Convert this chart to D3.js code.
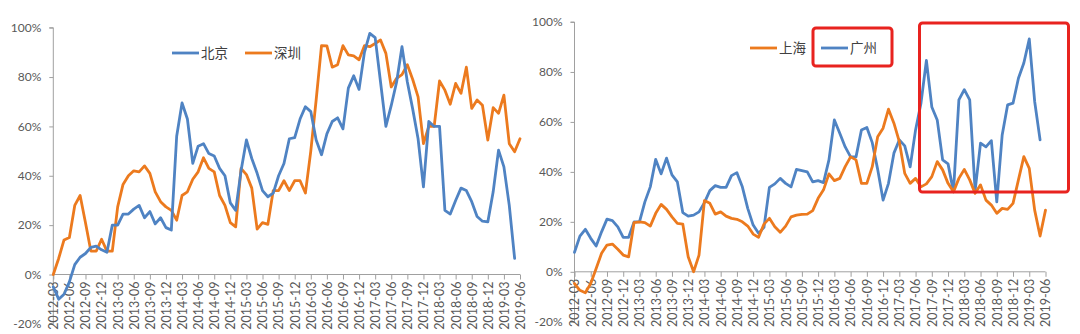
<!DOCTYPE html>
<html>
<head>
<meta charset="utf-8">
<script src="https://cdn.jsdelivr.net/npm/d3@7"></script>
<style>
html,body{margin:0;padding:0;background:#fff;}
svg{display:block;}
</style>
</head>
<body>
<svg id="chart" width="1080" height="334"></svg>
<script>
// ---------- DATA ----------
const months = [
"2012-03","2012-04","2012-05","2012-06","2012-07","2012-08","2012-09","2012-10","2012-11","2012-12",
"2013-01","2013-02","2013-03","2013-04","2013-05","2013-06","2013-07","2013-08","2013-09","2013-10","2013-11","2013-12",
"2014-01","2014-02","2014-03","2014-04","2014-05","2014-06","2014-07","2014-08","2014-09","2014-10","2014-11","2014-12",
"2015-01","2015-02","2015-03","2015-04","2015-05","2015-06","2015-07","2015-08","2015-09","2015-10","2015-11","2015-12",
"2016-01","2016-02","2016-03","2016-04","2016-05","2016-06","2016-07","2016-08","2016-09","2016-10","2016-11","2016-12",
"2017-01","2017-02","2017-03","2017-04","2017-05","2017-06","2017-07","2017-08","2017-09","2017-10","2017-11","2017-12",
"2018-01","2018-02","2018-03","2018-04","2018-05","2018-06","2018-07","2018-08","2018-09","2018-10","2018-11","2018-12",
"2019-01","2019-02","2019-03","2019-04","2019-05","2019-06"];

const tickMonths = [
"2012-03","2012-06","2012-09","2012-12","2013-03","2013-06","2013-09","2013-12",
"2014-03","2014-06","2014-09","2014-12","2015-03","2015-06","2015-09","2015-12",
"2016-03","2016-06","2016-09","2016-12","2017-03","2017-06","2017-09","2017-12",
"2018-03","2018-06","2018-09","2018-12","2019-03","2019-06"];

const yTicks = [-20, 0, 20, 40, 60, 80, 100];

// values in %
const beijing = [
-5,-10,-8,-3,4,7,8.5,11,11.5,10,
9,20,20,24.5,24.5,26.5,28,23,25.5,20.5,
23,19,18,56,69.5,63,45,52,53,49,
48,43,40,29,26,42,54.5,47,41,34,
31.5,33,40,45,55,55.5,63,68,66,54.5,
48.5,57,62,63.5,59,75.5,80.5,75,90,97.7,
96,78,60,68.5,78,92.3,78,67,55,35.5,
62,60,60,26,24.5,30,35,34,29.5,23.5,
21.6,21.3,33.5,50.4,43.6,28,6.5,null];

const shenzhen = [
0,6.5,14,15,28,32,21,9.5,9.5,14.3,
9.5,9.5,27.4,36.5,40,42,41.6,44,41,33.5,
29.5,27.4,26,22,32,33.5,38.6,41.6,47.3,43,
41.6,32,28,21,19.3,43,40.5,35,18.4,21,
20.3,34,34,38,34,38,38,33,50,70.7,
92.7,92.6,84,85,92.7,89,88.6,87,92.7,92.3,
93.6,95,89.6,76,79.5,81,85,79,72,53,
60,60,78.4,74.7,69,77.4,73.4,84,67.3,70.7,
68.6,54.5,67.6,65.3,72.7,53,49.7,55];

const shanghai = [
-4.7,-7.4,-8.4,-4.7,1.3,7.4,10.7,11.1,9,6.7,
6,19.7,20,19.7,18.3,23.4,27,25,22,19.4,
19.1,6,0,6.7,28.5,27.4,23.1,24,22.3,21.4,
21,20,18.3,15.1,13.8,19.1,21.4,18,15.8,18.3,
22,22.7,23,23.1,24.5,29.4,32.8,39.2,36.5,37.4,
42.1,46,44.8,35.4,35.4,42.1,54.1,57.5,65.1,59.5,
52.1,39.4,35.4,37.4,34,35.2,38.1,44.1,40.8,35.4,
32,37.4,41,36.8,31.4,34.8,28.7,26.7,23.4,25.4,
25,27.4,36.8,46.1,41.4,24.7,14.3,24.7];

const guangzhou = [
7.8,14.3,17,13.4,10.3,16,21.1,20.5,18,13.8,
13.8,20,20,28,34,45,39.2,45.5,38.8,36,
23.7,22.3,22.7,24,27.7,32.5,34.5,33.8,33.8,38.5,
39.7,34,25.4,18.7,15.4,17.8,33.8,35.2,37.4,35.4,
34,41,40.5,40,36,36.5,35.7,44.8,60.8,55.5,
50,46,46,56.8,57.8,51.7,41,28.7,35.4,47.5,
52.8,50.4,42,56.8,67.5,84.6,66,60.8,44.8,43.2,
32,68.8,72.9,68.8,32.5,51.5,50,52.5,28,54.8,
66.8,67.5,77.5,83.6,93.2,68.2,52.8,null];

const leftNames = ["北京", "深圳"];
const rightNames = ["上海", "广州"];

// ---------- STYLE ----------
const BLUE = "#4f83c3";
const ORANGE = "#ec7a1e";
const AXIS = "#a0a0a0";
const LABEL = "#595959";
const RED = "#e8231f";

const svg = d3.select("#chart");

function drawPanel(cfg) {
  const x = d3.scalePoint().domain(months).range([cfg.x0, cfg.x1]);
  const y = d3.scaleLinear().domain([0, 100]).range([cfg.yZero, cfg.yTop]);
  const g = svg.append("g");

  // y axis
  const yAx = g.append("g")
    .attr("transform", `translate(${cfg.x0},0)`)
    .call(d3.axisLeft(y).tickValues(yTicks).tickSize(4).tickPadding(8)
      .tickFormat(d => d + "%"));
  yAx.select(".domain").attr("d", `M-4,${y(-20)}H0V${y(100)}H-4`);
  yAx.selectAll(".domain,.tick line").attr("stroke", AXIS).attr("stroke-width", 1);
  yAx.selectAll("text").attr("fill", LABEL)
    .style("font-family", "Lato, 'Liberation Sans', sans-serif").style("font-size", "12px");

  // x axis at 0%
  const xAx = g.append("g")
    .attr("transform", `translate(0,${y(0)})`)
    .call(d3.axisBottom(x).tickValues(tickMonths).tickSize(5).tickPadding(3));
  xAx.select(".domain").attr("d", `M${cfg.x0},0H${cfg.x1}`);
  xAx.selectAll(".domain,.tick line").attr("stroke", AXIS).attr("stroke-width", 1);
  xAx.selectAll("text")
    .attr("fill", LABEL)
    .style("font-family", "Lato, 'Liberation Sans', sans-serif").style("font-size", "12.5px")
    .attr("text-anchor", "end")
    .attr("transform", "rotate(-90)")
    .attr("x", -7).attr("y", 0).attr("dy", "0.35em");

  // lines
  const line = d3.line()
    .defined(d => d.v !== null)
    .x(d => x(d.m)).y(d => y(d.v));
  cfg.series.forEach(s => {
    const pts = months.map((m, i) => ({m, v: s.values[i]}));
    g.append("path").datum(pts)
      .attr("fill", "none").attr("stroke", s.color)
      .attr("stroke-width", 2.8)
      .attr("stroke-linejoin", "round").attr("stroke-linecap", "round")
      .attr("d", line);
  });

  // legend
  cfg.legend.forEach(l => {
    g.append("line").attr("x1", l.x).attr("x2", l.x + 27)
      .attr("y1", l.y).attr("y2", l.y)
      .attr("stroke", l.color).attr("stroke-width", 2.8);
    g.append("text").attr("x", l.x + 29).attr("y", l.y).attr("dy", "0.36em")
      .attr("fill", "#404040")
      .style("font-family", "'Noto Sans CJK SC', sans-serif").style("font-size", "13.5px")
      .text(l.name);
  });
  return g;
}

drawPanel({
  x0: 53.3, x1: 520, yZero: 274.5, yTop: 27.7,
  series: [{values: shenzhen, color: ORANGE}, {values: beijing, color: BLUE}],
  legend: [
    {x: 172, y: 53, color: BLUE, name: leftNames[0]},
    {x: 245, y: 53, color: ORANGE, name: leftNames[1]}
  ]
});

drawPanel({
  x0: 574.5, x1: 1045.5, yZero: 271.8, yTop: 22,
  series: [{values: guangzhou, color: BLUE}, {values: shanghai, color: ORANGE}],
  legend: [
    {x: 750, y: 48, color: ORANGE, name: rightNames[0]},
    {x: 821, y: 48, color: BLUE, name: rightNames[1]}
  ]
});

// red highlight boxes
svg.append("rect").attr("x", 813).attr("y", 28).attr("width", 79).attr("height", 38)
  .attr("rx", 3).attr("fill", "none").attr("stroke", RED).attr("stroke-width", 3);
svg.append("rect").attr("x", 919.5).attr("y", 23).attr("width", 149).attr("height", 169)
  .attr("rx", 3).attr("fill", "none").attr("stroke", RED).attr("stroke-width", 3);
</script>
</body>
</html>
